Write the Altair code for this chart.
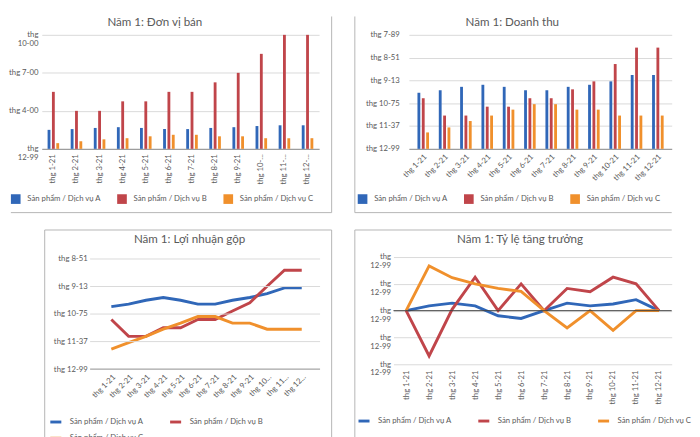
import json
import altair as alt
import pandas as pd

months = ["thg 1-21", "thg 2-21", "thg 3-21", "thg 4-21", "thg 5-21", "thg 6-21",
          "thg 7-21", "thg 8-21", "thg 9-21", "thg 10-21", "thg 11-21", "thg 12-21"]
series = ["Sản phẩm / Dịch vụ A", "Sản phẩm / Dịch vụ B", "Sản phẩm / Dịch vụ C"]
colors = ["#3067b8", "#c0454a", "#f0902c"]

# Panel 1: Đơn vị bán
units_a = [50, 52, 55, 57, 55, 52, 52, 55, 57, 60, 62, 62]
units_b = [150, 100, 100, 125, 125, 150, 150, 175, 200, 250, 300, 300]
units_c = [15, 20, 25, 28, 33, 37, 37, 33, 33, 28, 28, 28]
units_ticks = [0, 100, 200, 300]
units_labels = [["thg", "12-99"], "thg 4-00", "thg 7-00", ["thg", "10-00"]]

# Panel 2: Doanh thu
rev_a = [246, 257, 272, 281, 272, 257, 257, 272, 281, 296, 324, 324]
rev_b = [222, 146, 146, 185, 185, 222, 222, 261, 296, 372, 444, 444]
rev_c = [72, 94, 122, 146, 172, 196, 196, 172, 172, 146, 146, 146]
rev_ticks = [0, 100, 200, 300, 400, 500]
rev_labels = ["thg 12-99", "thg 11-37", "thg 10-75", "thg 9-13", "thg 8-51", "thg 7-89"]

# Panel 3: Lợi nhuận gộp
gp_a = [227, 236, 250, 260, 250, 236, 236, 250, 260, 274, 295, 295]
gp_b = [180, 119, 119, 150, 150, 180, 180, 211, 241, 301, 359, 359]
gp_c = [73, 96, 119, 145, 167, 191, 191, 167, 167, 145, 145, 145]
gp_ticks = [0, 100, 200, 300, 400]
gp_labels = ["thg 12-99", "thg 11-37", "thg 10-75", "thg 9-13", "thg 8-51"]

# Panel 4: Tỷ lệ tăng trưởng
gr_a = [0, 18, 28, 18, -19, -29, 0, 28, 18, 25, 41, 0]
gr_b = [0, -169, 5, 125, 0, 100, 0, 83, 71, 125, 100, 0]
gr_c = [0, 167, 123, 100, 83, 72, 0, -64, 0, -73, 0, 0]
gr_ticks = [-200, -100, 0, 100, 200]
gr_labels = [["thg", "12-99"]] * 5

titles = ["Năm 1: Đơn vị bán", "Năm 1: Doanh thu", "Năm 1: Lợi nhuận gộp",
          "Năm 1: Tỷ lệ tăng trưởng"]

FONT = "Lato"
TXT = "#595959"
GRID = "#d9d9d9"
BASE = "#8c8c8c"
FRAME = "#b3b3b3"
ONE = pd.DataFrame({"k": [0]})


def long_df(a, b, c):
    return pd.DataFrame({
        "month": months * 3,
        "series": [series[0]] * 12 + [series[1]] * 12 + [series[2]] * 12,
        "value": a + b + c,
    })


def lab_expr(vals, labs):
    expr = "''"
    for v, l in zip(vals, labs):
        expr = f"datum.value == {v} ? {json.dumps(l, ensure_ascii=False)} : ({expr})"
    return expr


def frame(rules):
    layers = []
    for r in rules:
        enc = {k: alt.value(v) for k, v in r.items()}
        layers.append(alt.Chart(ONE).mark_rule(color=FRAME, strokeWidth=1).encode(**enc))
    return layers


def head(text, x, y):
    return alt.Chart(ONE).mark_text(
        text=text, font=FONT, fontSize=12, color=TXT, align="center", baseline="middle"
    ).encode(x=alt.value(x), y=alt.value(y))


def y_axis(ticks, labels, pad, grid=True, offset=0):
    return alt.Axis(values=ticks, tickCount=len(ticks), labelExpr=lab_expr(ticks, labels),
                    title=None, domain=False, ticks=False, grid=grid, gridColor=GRID,
                    gridWidth=1, labelFont=FONT, labelFontSize=8, labelColor=TXT,
                    labelPadding=pad, labelLineHeight=9, labelOverlap=False, offset=offset)


def x_axis(angle, expr, pad, domain=True):
    return alt.Axis(title=None, labelAngle=angle, labelExpr=expr, ticks=False, domain=domain,
                    domainColor=BASE, labelFont=FONT, labelFontSize=8, labelColor=TXT,
                    labelPadding=pad, labelOverlap=False, grid=False)


def legend(x, y, cols, stroke, col_pad, row_pad=2):
    kw = dict(orient="none", legendX=x, legendY=y, direction="horizontal", columns=cols,
              title=None, labelFont=FONT, labelFontSize=8, labelColor=TXT, labelOffset=7,
              columnPadding=col_pad, rowPadding=row_pad)
    if stroke:
        kw.update(symbolType="stroke", symbolStrokeWidth=3, symbolSize=130)
    else:
        kw.update(symbolType="square", symbolSize=100, symbolStrokeWidth=0)
    return alt.Legend(**kw)


color_scale = alt.Scale(domain=series, range=colors)
trunc = "length(datum.label) > 8 ? slice(datum.label, 0, {n}) + '...' : datum.label"

# ---- Panel 1 ----
W1, H1 = 287, 118
bars1 = alt.Chart(long_df(units_a, units_b, units_c)).mark_bar().encode(
    x=alt.X("month:N", sort=months, scale=alt.Scale(paddingInner=0.5, paddingOuter=0.25),
            axis=x_axis(-90, trunc.format(n=7), 5)),
    xOffset=alt.XOffset("series:N", sort=series, scale=alt.Scale(paddingInner=0.35)),
    y=alt.Y("value:Q", scale=alt.Scale(domain=[0, 300], nice=False),
            axis=y_axis(units_ticks, units_labels, 4)),
    color=alt.Color("series:N", scale=color_scale,
                    legend=legend(-32, 165, 3, False, 16)),
)
p1 = alt.layer(bars1, head(titles[0], 117, -13), *frame([
    {"x": W1 + 13, "y": -19, "y2": 184},
    {"x": -32, "x2": W1 + 13, "y": 184},
])).properties(width=W1, height=H1)

# ---- Panel 2 ----
W2, H2 = 272, 118
bars2 = alt.Chart(long_df(rev_a, rev_b, rev_c)).mark_bar().encode(
    x=alt.X("month:N", sort=months, scale=alt.Scale(paddingInner=0.48, paddingOuter=0.4),
            axis=x_axis(-45, "datum.label", 4)),
    xOffset=alt.XOffset("series:N", sort=series, scale=alt.Scale(paddingInner=0.35)),
    y=alt.Y("value:Q", scale=alt.Scale(domain=[0, 500], nice=False),
            axis=y_axis(rev_ticks, rev_labels, 10)),
    color=alt.Color("series:N", scale=color_scale,
                    legend=legend(-53, 165, 3, False, 16)),
)
p2 = alt.layer(bars2, head(titles[1], 107, -13), *frame([
    {"x": -56, "y": -19, "y2": 184},
    {"x": -56, "x2": W2, "y": 184},
])).properties(width=W2, height=H2)

# ---- Panel 3 (plot area starts 50px inside its view) ----
W3, H3 = 288, 114
axis3 = y_axis(gp_ticks, gp_labels, 3, grid=False, offset=-50)
lines3 = alt.Chart(long_df(gp_a, gp_b, gp_c)).mark_line(strokeWidth=3).encode(
    x=alt.X("month:N", sort=months, scale=alt.Scale(type="point", range=[63, 278]),
            axis=x_axis(-45, trunc.format(n=6), 4, domain=False)),
    y=alt.Y("value:Q", scale=alt.Scale(domain=[0, 400], nice=False), axis=axis3),
    color=alt.Color("series:N", scale=color_scale,
                    legend=legend(7, 161, 2, True, 20, 3)),
)
grid3 = alt.Chart(pd.DataFrame({"value": gp_ticks})).mark_rule(strokeWidth=1).encode(
    y=alt.Y("value:Q", axis=axis3),
    x=alt.value(50), x2=alt.value(W3),
    color=alt.condition(alt.datum.value == 0, alt.value(BASE), alt.value(GRID)),
)
p3 = alt.layer(lines3, grid3, head(titles[2], 153, -21), *frame([
    {"x": 3, "y": -30, "y2": 185},
    {"x": 3, "x2": 300, "y": -30},
    {"x": 300, "y": -30, "y2": 185},
])).properties(width=W3, height=H3)

# ---- Panel 4 ----
W4, H4 = 288, 111
axis4 = y_axis(gr_ticks, gr_labels, 3)
lines4 = alt.Chart(long_df(gr_a, gr_b, gr_c)).mark_line(strokeWidth=3).encode(
    x=alt.X("month:N", sort=months, scale=alt.Scale(type="point", padding=0.55),
            axis=x_axis(-90, "datum.label", 6, domain=False)),
    y=alt.Y("value:Q", scale=alt.Scale(domain=[-200, 200], nice=False), axis=axis4),
    color=alt.Color("series:N", scale=color_scale,
                    legend=legend(-38, 162, 3, True, 20)),
)
zero4 = alt.Chart(pd.DataFrame({"value": [0]})).mark_rule(color="#404040", strokeWidth=1).encode(
    y=alt.Y("value:Q", axis=axis4))
p4 = alt.layer(lines4, zero4, head(titles[3], 131, -19), *frame([
    {"x": -40, "y": -28, "y2": 187},
    {"x": -40, "x2": W4, "y": -28},
])).properties(width=W4, height=H4)

chart = alt.concat(p1, p2, p3, p4, columns=2).properties(
    align="none", spacing={"row": 16, "column": 22}, padding=0, background="white"
).resolve_scale(color="independent").resolve_legend(color="independent").configure_view(
    stroke=None)

chart.save("out.html", embed_options={"renderer": "svg", "actions": False})
